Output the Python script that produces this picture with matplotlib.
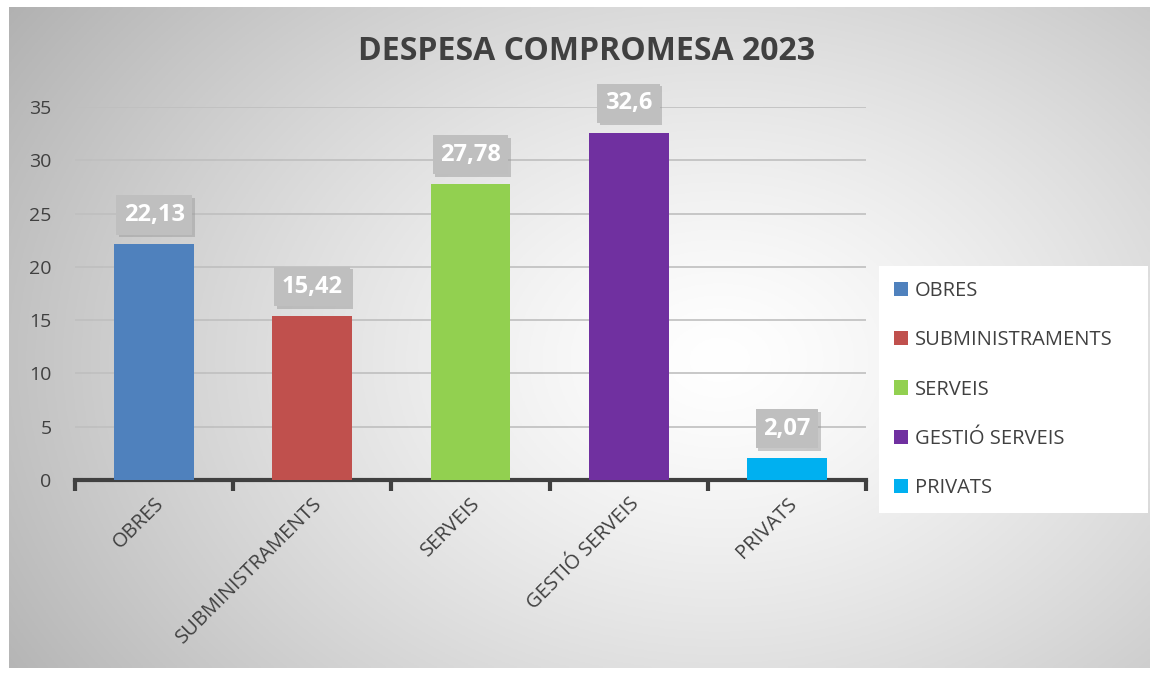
import numpy as np
import matplotlib
matplotlib.use("Agg")
import matplotlib.pyplot as plt
from matplotlib.patches import Patch
import matplotlib.patheffects as pe

categories = ["OBRES", "SUBMINISTRAMENTS", "SERVEIS", "GESTIÓ SERVEIS", "PRIVATS"]
values = [22.13, 15.42, 27.78, 32.6, 2.07]
value_labels = ["22,13", "15,42", "27,78", "32,6", "2,07"]
colors = ["#4F81BD", "#C0504D", "#92D050", "#7030A0", "#00B0F0"]
yticks = [0, 5, 10, 15, 20, 25, 30, 35]
title = "DESPESA COMPROMESA 2023"

plt.rcParams['font.family'] = ['Open Sans', 'DejaVu Sans']
W, H = 1156, 675
fig = plt.figure(figsize=(W / 100, H / 100), dpi=100)
fig.patch.set_facecolor("white")

# background gradient panel
bx0, by0, bx1, by1 = 9, 7, 1150, 668
bg = fig.add_axes([bx0 / W, 1 - by1 / H, (bx1 - bx0) / W, (by1 - by0) / H])
nx, ny = 400, 240
xs = np.linspace(bx0, bx1, nx)
ys = np.linspace(by0, by1, ny)
X, Y = np.meshgrid(xs, ys)
r = np.sqrt(((X - 720) / 760) ** 2 + ((Y - 360) / 560) ** 2)
v = 1.0 - 0.26 * np.clip(r, 0, 1.2) ** 1.3
img = np.dstack([v, v, v])
bg.imshow(img, aspect="auto", extent=[0, 1, 0, 1], origin="upper")
bg.set_axis_off()

# main axes
ax_l, ax_r, ax_t, ax_b = 75, 866, 107, 480
ax = fig.add_axes([ax_l / W, 1 - ax_b / H, (ax_r - ax_l) / W, (ax_b - ax_t) / H])
ax.patch.set_alpha(0)
x = np.arange(len(categories))
ax.bar(x, values, width=0.505, color=colors, zorder=3)
ax.set_xlim(-0.5, len(categories) - 0.5)
ax.set_ylim(0, 35)
ax.set_yticks(yticks)
ax.set_yticklabels([str(t) for t in yticks], fontsize=14, color="#404040")
ax.tick_params(axis="y", length=0, pad=17)
ax.grid(axis="y", color="#BFBFBF", linewidth=1.2, zorder=0)
for s in ["top", "right", "left"]:
    ax.spines[s].set_visible(False)
ax.spines["bottom"].set_color("#404040")
ax.spines["bottom"].set_linewidth(3)
ax.set_xticks(x)
ax.set_xticklabels(categories, rotation=45, ha="right", rotation_mode="anchor",
                   fontsize=14.5, color="#404040")
ax.tick_params(axis="x", length=0, pad=10)
ax.set_xticks(np.arange(-0.5, len(categories), 1.0), minor=True)
ax.tick_params(axis="x", which="minor", length=8, width=3, color="#404040", direction="out")

# data labels
for xi, val, lab in zip(x, values, value_labels):
    a = ax.annotate(lab, (xi, val), xytext=(0, 21), textcoords="offset points",
                    ha="center", va="center", fontsize=17, fontweight="bold", color="white",
                    bbox=dict(boxstyle="square,pad=0.32", fc="#BFBFBF", ec="none"),
                    zorder=5)
    a.get_bbox_patch().set_path_effects(
        [pe.SimplePatchShadow(offset=(1.8, -1.8), shadow_rgbFace="#9A9A9A", alpha=0.5),
         pe.Normal()])

# title
fig.text(587 / W, 1 - 52 / H, title, ha="center", va="center", fontsize=23,
         fontweight="bold", color="#404040")

# legend
handles = [Patch(facecolor=c, label=l) for c, l in zip(colors, categories)]
leg = fig.legend(handles=handles, loc="upper left",
                 bbox_to_anchor=(879 / W, 1 - 266 / H - 250 / H, 269 / W, 250 / H),
                 mode="expand",
                 frameon=True, fancybox=False, fontsize=14.5, labelspacing=1.45,
                 handlelength=0.7, handleheight=0.7, handletextpad=0.35,
                 borderpad=0.75, borderaxespad=0)
leg.get_frame().set_facecolor("white")
leg.get_frame().set_edgecolor("none")
leg.get_frame().set_alpha(1)
for t in leg.get_texts():
    t.set_color("#404040")

fig.savefig("out.png", dpi=100)
